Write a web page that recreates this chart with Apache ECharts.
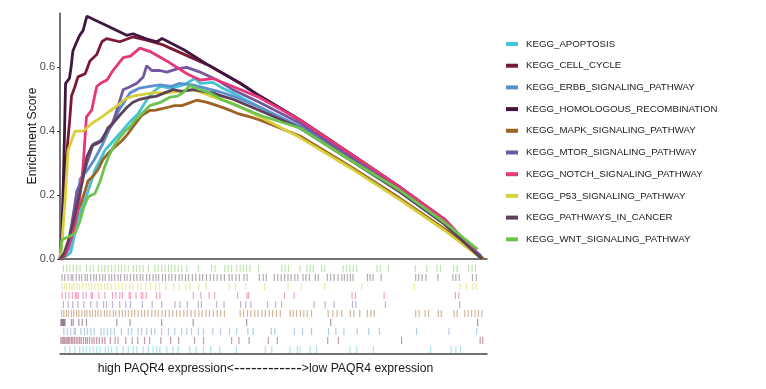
<!DOCTYPE html>
<html>
<head>
<meta charset="utf-8">
<script src="https://cdn.jsdelivr.net/npm/echarts@6/dist/echarts.min.js"></script>
<style>
  html, body { margin: 0; padding: 0; background: #fff; }
  #container { width: 766px; height: 389px; }
</style>
</head>
<body>
<div id="container"></div>
<script>
// gene sets, legend order
var setNames = [
    "KEGG_APOPTOSIS",
    "KEGG_CELL_CYCLE",
    "KEGG_ERBB_SIGNALING_PATHWAY",
    "KEGG_HOMOLOGOUS_RECOMBINATION",
    "KEGG_MAPK_SIGNALING_PATHWAY",
    "KEGG_MTOR_SIGNALING_PATHWAY",
    "KEGG_NOTCH_SIGNALING_PATHWAY",
    "KEGG_P53_SIGNALING_PATHWAY",
    "KEGG_PATHWAYS_IN_CANCER",
    "KEGG_WNT_SIGNALING_PATHWAY"
];
var setColors = ["#44c3d5", "#7c1a36", "#5b8fcf", "#42173f", "#9c6226",
                 "#7457a1", "#e6377a", "#d8d03a", "#5b4259", "#6cc34d"];

// running enrichment score, [rank %, ES]
var esApoptosis = [[0,0],[1.5,0.01],[2.5,0.02],[3,0.05],[4.2,0.13],[5.9,0.185],[7,0.23],[8.2,0.28],[9.4,0.31],[10.5,0.34],[12.5,0.37],[14.5,0.40],[16.4,0.43],[18.3,0.455],[20.4,0.50],[22,0.525],[23.4,0.54],[26,0.535],[29,0.545],[31.6,0.565],[32.8,0.55],[35.8,0.553],[38,0.535],[40.5,0.52],[46.8,0.475],[56.2,0.41],[68,0.31],[79.6,0.21],[90,0.11],[98.5,0.01]];
var esCellCycle = [[0,0],[0.5,0.08],[1.0,0.2],[1.5,0.32],[2.3,0.44],[2.7,0.51],[3.5,0.54],[4.2,0.57],[5.9,0.58],[7.0,0.62],[8.6,0.64],[9.8,0.68],[10.9,0.69],[14,0.68],[17,0.695],[20.3,0.685],[24.2,0.67],[25.8,0.66],[30,0.635],[35,0.605],[42.2,0.55],[46.8,0.51],[56.2,0.435],[68,0.33],[79.6,0.225],[90,0.12],[98.8,0.005]];
var esErbb = [[0,0],[1,0.01],[2,0.03],[3,0.08],[3.5,0.12],[4.7,0.25],[6.5,0.28],[8,0.31],[10,0.36],[12,0.42],[14,0.47],[16.4,0.52],[18.7,0.535],[21,0.54],[23.4,0.545],[26,0.54],[28,0.55],[31,0.545],[34,0.535],[37,0.525],[40.5,0.51],[46.8,0.475],[56.2,0.415],[68,0.315],[79.6,0.21],[90,0.11],[98.5,0.01]];
var esHomologous = [[0,0],[0.4,0.06],[0.8,0.25],[1.1,0.42],[1.3,0.55],[2.2,0.565],[2.6,0.60],[3.0,0.65],[3.6,0.67],[4.6,0.70],[5.4,0.715],[6.3,0.76],[11,0.73],[15.6,0.70],[17.1,0.705],[20,0.69],[22.7,0.68],[23.9,0.69],[29,0.655],[34.4,0.61],[42.2,0.55],[46.8,0.51],[56.2,0.435],[68,0.33],[79.6,0.225],[90,0.125],[98.8,0.0]];
var esMapk = [[0,0],[0.5,0.0],[1.2,0.01],[2.3,0.07],[3.5,0.13],[5.2,0.185],[6.6,0.245],[7.8,0.26],[8.9,0.28],[10,0.31],[11.2,0.33],[12.8,0.35],[14.5,0.37],[15.8,0.39],[16.9,0.41],[18,0.43],[19.2,0.45],[21,0.465],[22.2,0.465],[23.7,0.47],[25.3,0.475],[26.8,0.48],[28.5,0.48],[30,0.487],[32,0.497],[34.5,0.49],[36.8,0.48],[39,0.47],[41.5,0.456],[44.5,0.445],[46.8,0.435],[56.2,0.385],[68,0.29],[79.6,0.19],[90,0.095],[99.3,0.0]];
var esMtor = [[0,0],[1,0.01],[2,0.05],[3,0.13],[4,0.215],[5,0.24],[6.3,0.30],[7.8,0.36],[9.5,0.37],[11,0.40],[12.2,0.42],[13.3,0.465],[14.8,0.53],[16.5,0.54],[18,0.55],[19.5,0.57],[20.3,0.605],[21.5,0.59],[23.4,0.59],[25,0.585],[27.4,0.595],[29.7,0.60],[32.8,0.585],[36.8,0.56],[40.5,0.53],[46.8,0.49],[56.2,0.425],[68,0.32],[79.6,0.215],[90,0.115],[98.5,0.01]];
var esNotch = [[0,0],[1.5,0.02],[3,0.08],[4.0,0.14],[4.7,0.2],[5.4,0.29],[6.2,0.445],[7.4,0.465],[8.6,0.54],[9.5,0.55],[11,0.56],[12.4,0.59],[14.8,0.63],[16.5,0.635],[18.7,0.66],[21,0.65],[25,0.62],[29.7,0.58],[32.8,0.56],[35.8,0.565],[40.5,0.54],[46.8,0.505],[56.2,0.435],[68,0.33],[79.6,0.225],[90,0.125],[97.5,0.02]];
var esP53 = [[0,0],[0.5,0.06],[1.2,0.185],[1.9,0.34],[3.5,0.40],[5.4,0.40],[7.5,0.425],[9.8,0.445],[12.9,0.475],[15.2,0.50],[17.1,0.51],[19.5,0.515],[21.8,0.52],[25,0.52],[28,0.525],[31.1,0.53],[33.5,0.52],[35.8,0.507],[40.5,0.487],[46.8,0.445],[56.2,0.38],[68,0.285],[79.6,0.185],[90,0.09],[98.8,0.0]];
var esCancer = [[0,0],[1,0.02],[2,0.06],[3,0.11],[4,0.17],[5.2,0.24],[6.3,0.32],[7.5,0.355],[8.5,0.36],[9.8,0.37],[11.2,0.41],[12.4,0.425],[14,0.45],[15.7,0.475],[17,0.49],[18.7,0.50],[20.5,0.505],[22.7,0.51],[24.5,0.52],[26.5,0.53],[28.5,0.525],[31.1,0.53],[33.5,0.525],[35.8,0.52],[38,0.51],[40.5,0.50],[46.8,0.465],[56.2,0.41],[68,0.31],[79.6,0.21],[90,0.11],[98.8,0.0]];
var esWnt = [[0,0.02],[0.5,0.06],[2,0.07],[3.5,0.08],[4.7,0.12],[5.5,0.16],[6.6,0.195],[8.2,0.205],[9.3,0.24],[10.5,0.29],[11.7,0.33],[12.9,0.36],[14,0.38],[15.2,0.40],[16.5,0.415],[17.6,0.435],[18.8,0.45],[19.9,0.465],[21,0.48],[23.5,0.49],[25.8,0.507],[27.5,0.51],[28.8,0.52],[30.4,0.543],[32.8,0.53],[35.1,0.52],[38.2,0.497],[42.2,0.476],[46.8,0.45],[56.2,0.41],[68,0.31],[79.6,0.215],[90,0.115],[97.8,0.03]];

// hit positions (rank %) for the barcode rows
var hitsApoptosis = [1.2,2.3,3.5,4.6,5.4,6.2,7.0,7.8,8.6,9.4,10.6,11.3,12.1,13.3,14.8,16.0,17.2,18.0,19.5,20.7,21.8,22.6,23.4,25.0,26.5,27.7,30.4,31.9,33.6,35.3,37.4,41.3,48.1,49.6,53.9,55.6,56.2,58.6,60.1,67.9,69.5,73.4,86.8,91.6,92.7,93.8];
var hitsCellCycle = [0.2,0.5,0.8,1.1,1.4,1.7,2.0,2.3,2.7,3.0,3.4,3.8,4.2,4.6,5.0,5.5,6.0,6.4,6.9,7.5,8.0,8.6,9.2,9.9,10.5,11.8,12.9,13.6,15.4,16.9,18.2,19.8,21.0,23.6,25.9,27.8,31.5,33.6,40.2,41.9,44.3,48.8,50.9,62.7,65.2,80.0,98.4,99.0];
var hitsErbb = [0.9,1.7,2.5,3.3,3.6,4.9,5.7,6.4,7.2,8.0,9.6,10.3,11.1,11.9,12.7,14.4,16.0,16.8,18.3,19.1,20.3,21.4,22.2,23.8,25.4,26.9,28.5,29.7,30.8,32.4,33.6,35.8,37.6,39.7,41.4,44.0,45.2,49.5,50.3,54.9,56.8,58.9,62.9,64.6,66.5,69.6,72.3,74.8,83.5,91.1,97.6];
var hitsHomologous = [0.2,0.4,0.6,0.8,1.0,1.2,2.7,3.1,4.4,5.2,6.2,13.3,16.4,23.8,31.2,43.7,63.4,97.8];
var hitsMapk = [0.4,0.9,1.5,2.0,2.7,3.2,3.9,4.4,5.1,5.8,6.3,7.0,7.6,8.3,8.9,9.6,10.4,11.0,11.7,12.5,13.1,13.9,14.6,15.3,16.0,16.8,17.5,18.3,19.1,19.8,20.6,21.5,22.3,23.0,23.9,24.7,25.6,26.4,27.3,28.1,29.0,29.8,30.7,31.6,32.5,33.3,34.2,35.0,35.9,36.8,37.6,38.5,42.2,43.0,43.9,44.7,45.6,46.4,47.3,48.1,49.0,49.8,50.7,51.6,53.9,54.6,55.4,56.3,57.1,57.9,58.9,62.8,63.9,64.9,66.0,68.0,68.8,70.2,72.0,72.8,73.6,83.3,84.1,85.5,86.3,88.6,89.3,92.3,93.0,94.8,95.6,96.4,97.2,98.0,98.8];
var hitsMtor = [0.8,1.9,3.0,4.2,5.6,7.2,8.7,10.2,10.9,12.3,14.0,15.4,16.5,19.3,21.6,23.8,26.9,28.1,29.8,32.4,33.1,36.7,38.4,42.3,43.5,44.7,48.6,50.5,51.9,59.5,62.1,64.2,68.5,69.3,76.2,93.6];
var hitsNotch = [0.5,1.3,2.1,2.9,3.6,3.9,4.3,5.4,6.1,7.3,7.6,9.1,10.5,12.3,13.1,14.0,14.6,16.2,16.5,17.8,19.0,19.4,20.2,22.6,23.4,31.2,33.0,34.9,36.2,41.6,43.8,44.2,52.6,54.8,68.4,69.2,75.9,92.6,93.4];
var hitsP53 = [0.4,1.0,1.5,2.2,2.8,3.3,4.0,4.6,5.3,6.1,6.8,7.4,8.2,9.0,9.6,10.5,11.2,12.0,12.9,13.7,14.6,15.4,16.3,17.1,18.2,19.0,20.1,21.2,22.4,23.3,24.8,26.6,27.9,29.5,30.4,32.5,34.2,39.6,41.1,43.5,47.9,53.4,56.5,62.0,70.7,83.0,93.7,95.2,96.7,97.5];
var hitsCancer = [0.5,1.1,1.9,2.6,3.0,3.8,4.5,5.1,5.9,6.4,7.2,7.9,8.5,9.3,10.0,10.6,11.5,12.1,12.8,13.6,14.2,15.1,15.7,16.5,17.3,18.0,18.8,19.4,20.3,21.0,21.8,22.5,23.1,24.0,24.7,25.5,26.2,27.0,27.9,28.6,29.4,30.1,31.0,31.8,32.7,33.4,34.3,35.2,36.0,36.8,37.7,38.5,39.6,40.3,41.2,42.0,43.1,43.8,46.7,47.6,48.3,50.2,51.0,51.8,52.6,53.4,54.1,55.0,55.7,56.9,57.6,58.4,59.8,60.5,62.6,63.4,64.2,65.1,66.0,66.6,67.3,68.0,68.6,72.0,72.6,73.3,75.2,83.3,84.0,84.8,85.7,88.5,92.0,92.7,93.5,96.6,97.5];
var hitsWnt = [0.8,1.6,2.3,3.1,3.9,4.7,6.2,7.0,7.8,9.0,9.8,10.5,11.3,12.1,12.9,13.7,14.4,15.2,16.0,17.2,17.9,18.7,19.5,20.7,22.2,23.0,23.8,24.6,25.4,26.1,26.9,27.7,28.5,29.7,32.4,35.5,36.3,38.6,39.4,40.2,41.4,42.2,42.9,43.7,44.5,46.5,51.9,52.7,53.5,56.2,57.8,58.6,59.3,61.3,62.0,66.3,67.1,67.9,68.7,69.5,74.2,75.0,76.9,83.2,85.9,88.3,89.1,92.2,93.0,95.7,96.5,97.3];

var esCurves = [esApoptosis, esCellCycle, esErbb, esHomologous, esMapk,
                esMtor, esNotch, esP53, esCancer, esWnt];
var hitLists = [hitsApoptosis, hitsCellCycle, hitsErbb, hitsHomologous, hitsMapk,
                hitsMtor, hitsNotch, hitsP53, hitsCancer, hitsWnt];

var myChart = echarts.init(document.getElementById("container"));

// barcode tick
function drawHit(params, api) {
    var p = api.coord([api.value(0), api.value(1)]);
    var h = api.size([0, 1])[1] * 0.8;
    return {
        type: 'rect',
        shape: { x: p[0] - 0.6, y: p[1] - h / 2, width: 1.2, height: h },
        style: { fill: api.visual('color'), opacity: 0.45 }
    };
}

var series = [];
for (var i = 0; i < setNames.length; i++) {
    series.push({
        type: 'line',
        name: setNames[i],
        data: esCurves[i],
        xAxisIndex: 0,
        yAxisIndex: 0,
        showSymbol: false,
        symbol: 'none',
        color: setColors[i],
        lineStyle: { width: 2.8, color: setColors[i] },
        z: 2 + i
    });
}
for (var j = 0; j < setNames.length; j++) {
    series.push({
        type: 'custom',
        id: 'hits' + j,
        xAxisIndex: 1,
        yAxisIndex: 1,
        color: setColors[j],
        renderItem: drawHit,
        data: hitLists[j].map(function (v) { return [v, setNames[j]]; })
    });
}

myChart.setOption({
    animation: false,
    backgroundColor: '#fff',
    textStyle: { fontFamily: 'Liberation Sans, Arial, sans-serif' },
    legend: {
        data: setNames,
        orient: 'vertical',
        left: 501,
        top: 34,
        icon: 'rect',
        itemWidth: 12,
        itemHeight: 4,
        itemGap: 11.7,
        textStyle: { fontSize: 9.7, color: '#1a1a1a', padding: [0, 0, 0, 3] }
    },
    grid: [
        { left: 60, right: 279, top: 13, bottom: 130 },
        { left: 60, right: 279, top: 264, bottom: 35 }
    ],
    xAxis: [{
        type: 'value', gridIndex: 0, min: 0, max: 100,
        axisLine: { show: true, lineStyle: { color: '#444', width: 1.5 } },
        axisTick: { show: false }, axisLabel: { show: false }, splitLine: { show: false }
    }, {
        type: 'value', gridIndex: 1, min: 0, max: 100,
        axisLine: { show: true, lineStyle: { color: '#444', width: 1.5 } },
        axisTick: { show: false }, axisLabel: { show: false }, splitLine: { show: false },
        name: '{a|high PAQR4 expression<}{b|------------}{a|>low PAQR4 expression}',
        nameLocation: 'middle',
        nameGap: 6,
        nameTextStyle: {
            padding: [0, 16, 0, 0],
            rich: {
                a: { fontSize: 12.2, color: '#1a1a1a' },
                b: { fontSize: 17, color: '#1a1a1a' }
            }
        }
    }],
    yAxis: [{
        type: 'value', gridIndex: 0, min: 0, max: 0.77, interval: 0.2,
        name: 'Enrichment Score',
        nameLocation: 'middle',
        nameGap: 21,
        nameMoveOverlap: false,
        nameTextStyle: { fontSize: 12.2, color: '#1a1a1a' },
        axisLine: { show: true, lineStyle: { color: '#444', width: 1.5 } },
        axisTick: { show: true, length: 3, customValues: [0, 0.2, 0.4, 0.6], lineStyle: { color: '#444' } },
        axisLabel: {
            fontSize: 11, color: '#4d4d4d', margin: 5,
            customValues: [0, 0.2, 0.4, 0.6],
            formatter: function (v) { return v.toFixed(1); }
        },
        splitLine: { show: false }
    }, {
        type: 'category', gridIndex: 1, data: setNames, show: false
    }],
    series: series
});
</script>
</body>
</html>
